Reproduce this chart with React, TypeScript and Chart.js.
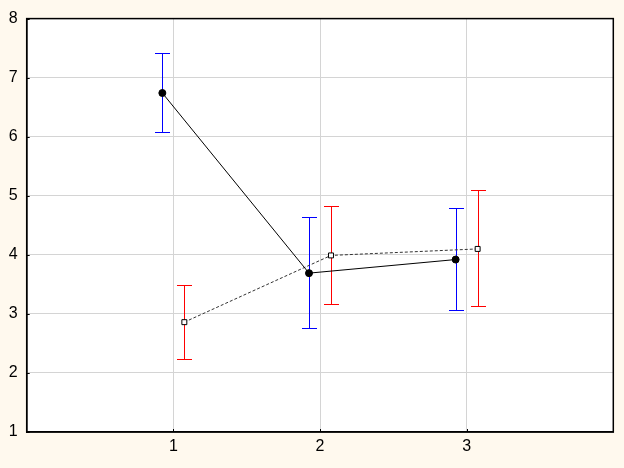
import React, { useEffect, useRef } from "react";
import { Chart, registerables } from "chart.js";

Chart.register(...registerables);

const categories = [1, 2, 3];
const offset = 0.075;
const series1Means = [6.74, 3.69, 3.92];
const series1Low = [6.08, 2.76, 3.07];
const series1High = [7.42, 4.64, 4.79];
const series2Means = [2.86, 3.99, 4.1];
const series2Low = [2.23, 3.17, 3.14];
const series2High = [3.49, 4.82, 5.09];
const series1BarColors = ["#0000ff", "#0000ff", "#0000ff"];
const series2BarColors = ["#ff0000", "#ff0000", "#ff0000"];
const yTicks = [1, 2, 3, 4, 5, 6, 7, 8];

const errorBarPlugin = {
  id: "errorBars",
  beforeDatasetsDraw(chart: any) {
    const ctx = chart.ctx;
    const xs = chart.scales.x;
    const ys = chart.scales.y;
    const draw = (xv: number, lo: number, hi: number, color: string) => {
      const px = Math.round(xs.getPixelForValue(xv)) + 0.5;
      const pl = Math.round(ys.getPixelForValue(lo)) + 0.5;
      const ph = Math.round(ys.getPixelForValue(hi)) + 0.5;
      ctx.save();
      ctx.strokeStyle = color;
      ctx.lineWidth = 1;
      ctx.beginPath();
      ctx.moveTo(px, pl);
      ctx.lineTo(px, ph);
      ctx.moveTo(px - 7.5, pl);
      ctx.lineTo(px + 7.5, pl);
      ctx.moveTo(px - 7.5, ph);
      ctx.lineTo(px + 7.5, ph);
      ctx.stroke();
      ctx.restore();
    };
    categories.forEach((c, i) => {
      draw(c - offset, series1Low[i], series1High[i], series1BarColors[i]);
      draw(c + offset, series2Low[i], series2High[i], series2BarColors[i]);
    });
  },
};

const innerTicksPlugin = {
  id: "innerTicks",
  afterDraw(chart: any) {
    const ctx = chart.ctx;
    const xs = chart.scales.x;
    const ys = chart.scales.y;
    const area = chart.chartArea;
    ctx.save();
    ctx.strokeStyle = "#000";
    ctx.lineWidth = 1;
    ctx.beginPath();
    categories.forEach((c) => {
      const px = Math.round(xs.getPixelForValue(c)) + 0.5;
      ctx.moveTo(px, area.bottom);
      ctx.lineTo(px, area.bottom - 3);
    });
    yTicks.forEach((v) => {
      const py = Math.round(ys.getPixelForValue(v)) + 0.5;
      ctx.moveTo(area.left, py);
      ctx.lineTo(area.left + 3, py);
    });
    ctx.stroke();
    ctx.lineWidth = 1.5;
    ctx.strokeRect(area.left, area.top, area.right - area.left, area.bottom - area.top);
    ctx.restore();
  },
};

const plotBgPlugin = {
  id: "plotBg",
  beforeDraw(chart: any) {
    const ctx = chart.ctx;
    const a = chart.chartArea;
    ctx.save();
    ctx.fillStyle = "#FFF9EE";
    ctx.fillRect(0, 0, chart.width, chart.height);
    ctx.fillStyle = "#ffffff";
    ctx.fillRect(a.left, a.top, a.right - a.left, a.bottom - a.top);
    ctx.restore();
  },
};

export default function App() {
  const ref = useRef<HTMLCanvasElement | null>(null);

  useEffect(() => {
    document.body.style.margin = "0";
    const canvas = ref.current;
    if (!canvas) return;
    const chart = new Chart(canvas, {
      type: "line",
      data: {
        datasets: [
          {
            label: "Series 1",
            data: categories.map((c, i) => ({ x: c - offset, y: series1Means[i] })),
            borderColor: "#000000",
            borderWidth: 1,
            backgroundColor: "#000000",
            pointBackgroundColor: "#000000",
            pointBorderColor: "#000000",
            pointRadius: 3.5,
            pointStyle: "circle",
            fill: false,
            tension: 0,
          },
          {
            label: "Series 2",
            data: categories.map((c, i) => ({ x: c + offset, y: series2Means[i] })),
            borderColor: "#333333",
            borderWidth: 1,
            borderDash: [3, 2],
            pointBackgroundColor: "#ffffff",
            pointBorderColor: "#000000",
            pointBorderWidth: 1,
            pointRadius: 3.5,
            pointStyle: "rect",
            fill: false,
            tension: 0,
          },
        ],
      },
      options: {
        animation: false,
        responsive: false,
        maintainAspectRatio: false,
        layout: { padding: { top: 17, right: 10.7, left: 0, bottom: 0 } },
        plugins: {
          legend: { display: false },
          tooltip: { enabled: false },
        },
        scales: {
          x: {
            type: "linear",
            min: 0,
            max: 4,
            afterFit: (s: any) => {
              s.height = 36;
            },
            afterBuildTicks: (s: any) => {
              s.ticks = [0, 1, 2, 3, 4].map((v) => ({ value: v }));
            },
            ticks: {
              color: "#000",
              font: { family: "Liberation Sans, Arial", size: 16 },
              padding: 5,
              maxRotation: 0,
              callback: (v: any) => (v === 0 || v === 4 ? "" : String(v)),
            },
            grid: {
              drawTicks: false,
              color: (c: any) =>
                c.tick && (c.tick.value === 0 || c.tick.value === 4) ? "rgba(0,0,0,0)" : "#d4d4d4",
              lineWidth: 1,
            },
            border: { display: true, color: "#000", width: 1.5 },
          },
          y: {
            type: "linear",
            min: 1,
            max: 8,
            afterFit: (s: any) => {
              s.width = 26.7;
            },
            afterBuildTicks: (s: any) => {
              s.ticks = yTicks.map((v) => ({ value: v }));
            },
            ticks: {
              color: "#000",
              font: { family: "Liberation Sans, Arial", size: 16 },
              padding: 9,
            },
            grid: {
              drawTicks: false,
              color: (c: any) =>
                c.tick && (c.tick.value === 1 || c.tick.value === 8) ? "rgba(0,0,0,0)" : "#d4d4d4",
              lineWidth: 1,
            },
            border: { display: true, color: "#000", width: 1.5 },
          },
        },
      },
      plugins: [plotBgPlugin, errorBarPlugin, innerTicksPlugin],
    });
    return () => chart.destroy();
  }, []);

  return (
    <div style={{ position: "absolute", left: 0, top: 0, width: 624, height: 468 }}>
      <canvas ref={ref} width={624} height={468} style={{ width: 624, height: 468, display: "block" }} />
    </div>
  );
}
